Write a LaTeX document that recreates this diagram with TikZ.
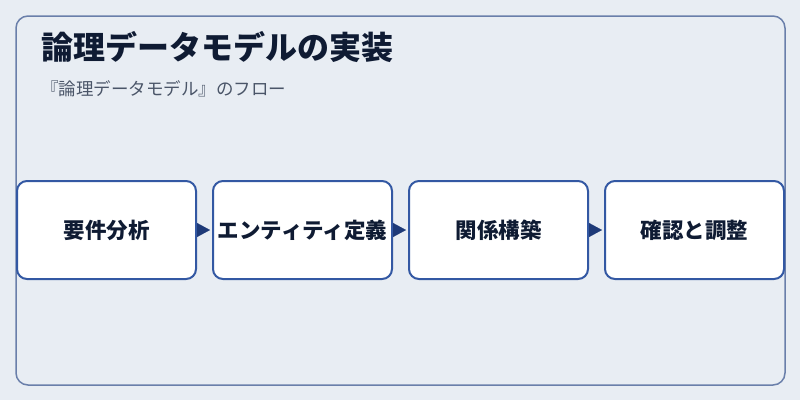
\documentclass[tikz,border=0pt]{standalone}
\usepackage{fontspec}
\setmainfont{Noto Sans CJK JP}
\usetikzlibrary{arrows.meta}
\definecolor{bg}{HTML}{E8EDF3}
\definecolor{frame}{HTML}{6A7FAA}
\definecolor{boxline}{HTML}{3358A3}
\definecolor{ink}{HTML}{0F1B33}
\definecolor{subink}{HTML}{4A5568}
\definecolor{arrowc}{HTML}{1E3A78}
\begin{document}
\begin{tikzpicture}[x=1pt,y=-1pt,
  stepbox/.style={draw=boxline, line width=2pt, fill=white, rounded corners=10pt,
    minimum width=179pt, minimum height=98pt, inner sep=0pt,
    font=\fontsize{21.5}{24}\selectfont\bfseries, text=ink},
  flow/.style={draw=arrowc, line width=0.1pt, -{Triangle[length=13pt,width=14pt]},
    shorten <=2pt, shorten >=2pt}]
\fill[bg] (0,0) rectangle (800,400);
\useasboundingbox (0,0) rectangle (800,400);
\draw[frame, line width=1.5pt, rounded corners=12pt] (16,16) rectangle (785,385);
\node[anchor=west, text=ink, font=\fontsize{32}{36}\selectfont\bfseries, inner sep=0pt] (title) at (41,47) {論理データモデルの実装};
\node[anchor=west, text=subink, font=\fontsize{17.5}{20}\selectfont, inner sep=0pt] (sub) at (41,89) {『論理データモデル』のフロー};
\node[stepbox] (1) at (106.5,230) {要件分析};
\node[stepbox] (2) at (302.5,230) {エンティティ定義};
\node[stepbox] (3) at (498.5,230) {関係構築};
\node[stepbox] (4) at (694.5,230) {確認と調整};
\path[flow] (1) -- (2);
\path[flow] (2) -- (3);
\path[flow] (3) -- (4);
\end{tikzpicture}
\end{document}
